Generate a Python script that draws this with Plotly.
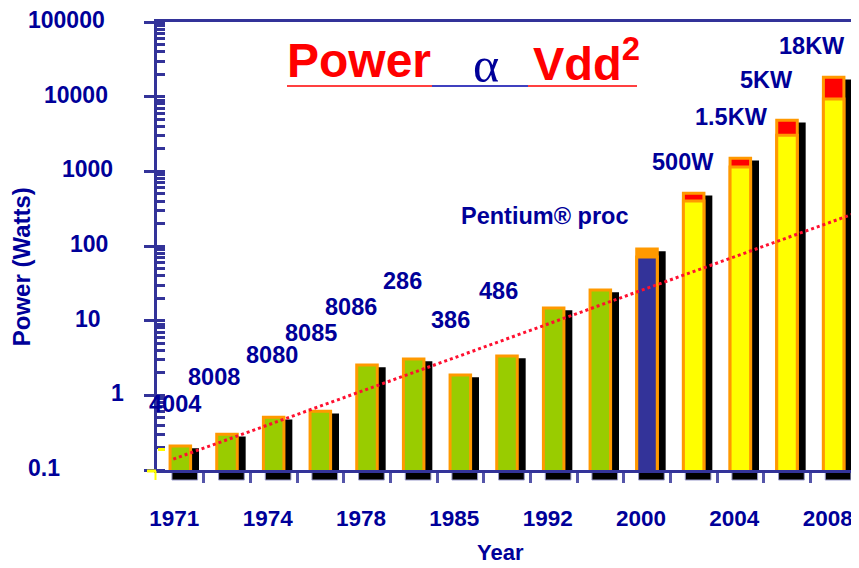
import math
import plotly.graph_objects as go

# ---------------- data ----------------
chips = ["4004", "8008", "8080", "8085", "8086", "286", "386", "486",
         "P1", "P2", "Pentium", "F1", "F2", "F3", "F4"]
power_top = [0.21, 0.30, 0.51, 0.61, 2.55, 3.06, 1.87, 3.37,
             14.8, 25.8, 91, 510, 1500, 4840, 18200]
power_body = [None] * 10 + [71, 400, 1140, 3050, 9270]

tick_positions = [0, 2, 4, 6, 8, 10, 12, 14]
tick_labels = ["1971", "1974", "1978", "1985", "1992", "2000", "2004", "2008"]

label_texts = ["4004", "8008", "8080", "8085", "8086", "286", "386", "486",
               "Pentium® proc", "500W", "1.5KW", "5KW", "18KW"]
label_x = [-0.11, 0.72, 1.96, 2.80, 3.66, 4.75, 5.78, 6.81, 7.81, 10.77, 11.80, 12.57, 13.53]
label_y = [0.77, 1.76, 3.47, 6.8, 15.2, 34, 10.2, 25, 250, 1330, 5330, 16700, 47600]

trend_x = [-0.15, 14.5]
trend_y = [0.14, 280]

y_decades = [0.1, 1, 10, 100, 1000, 10000, 100000]
y_decade_labels = ["0.1", "1", "10", "100", "1000", "10000", "100000"]

# ---------------- style ----------------
GREEN, ORANGE, YELLOW, RED, BLUE = "#99cc00", "#ff9900", "#ffff00", "#ff0000", "#333399"
AXIS = "#333399"
TXT = "#000099"
FONT = "Liberation Sans, Arial, sans-serif"
n = len(power_top)
idx = list(range(n))
top_colors = [GREEN] * 10 + [ORANGE] + [RED] * 4
body_colors = [GREEN] * 10 + [BLUE] + [YELLOW] * 4
W = 0.44
# right edge (px in the 859-wide page) of each hand-placed decade label
ylabel_right_px = [62, 126, 103, 110, 115, 110, 107]

fig = go.Figure()

# shadow (drawn on base axis, slightly shifted range)
fig.add_trace(go.Bar(x=idx, y=power_top, yaxis="y", xaxis="x", width=W,
                     offset=-W / 2 + 0.18, marker=dict(color="black", line=dict(width=0)),
                     hoverinfo="skip", showlegend=False))
# full-height bar (cap colour)
fig.add_trace(go.Bar(x=idx, y=power_top, yaxis="y2", width=W,
                     marker=dict(color=top_colors, line=dict(color=ORANGE, width=3)),
                     showlegend=False))
# body
fig.add_trace(go.Bar(x=idx, y=power_body, yaxis="y2", width=W,
                     marker=dict(color=body_colors, line=dict(color=ORANGE, width=3)),
                     showlegend=False))
# trend
fig.add_trace(go.Scatter(x=trend_x, y=trend_y, yaxis="y2", mode="lines",
                         line=dict(color="#ff1030", width=3, dash="dot"),
                         showlegend=False, hoverinfo="skip"))
# invisible trace to activate yaxis3 (inner half of the decade ticks)
fig.add_trace(go.Scatter(x=[None], y=[None], yaxis="y3", showlegend=False, hoverinfo="skip"))

shift = 0.03
fig.update_layout(
    width=851, height=560,
    margin=dict(l=149, r=2, t=14, b=98, autoexpand=False),
    paper_bgcolor="white", plot_bgcolor="white",
    barmode="overlay",
    showlegend=False,
    font=dict(family=FONT, color=TXT),
    xaxis=dict(range=[-0.5, 14.5], showgrid=False, zeroline=False,
               showline=True, linecolor=AXIS, linewidth=3, mirror=True,
               tickmode="array", tickvals=tick_positions, ticktext=tick_labels,
               ticks="", ticklabelshift=-6, ticklabelstandoff=26,
               tickfont=dict(size=22.5, color=TXT, family=FONT, weight="bold"),
               minor=dict(tickmode="array", tickvals=[i + 0.5 for i in range(n - 1)],
                          ticks="outside", ticklen=10, tickwidth=3, tickcolor="#5555aa")),
    yaxis=dict(type="log", range=[-1 + shift, 5 + shift], visible=False,
               showgrid=False, zeroline=False),
    yaxis2=dict(type="log", range=[-1, 5], overlaying="y", side="left", anchor="x",
                showgrid=False, zeroline=False,
                showline=True, linecolor=AXIS, linewidth=3, mirror=True,
                tickmode="array", tickvals=y_decades, showticklabels=False,
                ticks="outside", ticklen=10, tickwidth=3, tickcolor=AXIS,
                minor=dict(dtick="D1", ticks="inside", ticklen=8, tickwidth=2.5,
                           tickcolor=AXIS, showgrid=False)),
    yaxis3=dict(type="log", range=[-1, 5], overlaying="y", side="left", anchor="x",
                showgrid=False, zeroline=False, showline=False, showticklabels=False,
                tickmode="array", tickvals=y_decades,
                ticks="inside", ticklen=8, tickwidth=3, tickcolor=AXIS),
)

ann = []
for t, xx, yy in zip(label_texts, label_x, label_y):
    ann.append(dict(x=xx, y=math.log10(yy), xref="x", yref="y2", text=t, showarrow=False,
                    font=dict(size=23.5, color=TXT, family=FONT, weight="bold"),
                    xanchor="center", yanchor="middle"))


def px_x(p):
    return (p - 157) / 700


def px_y(p):
    return (470 - p) / 448


# decade labels of the value axis
for v, t, rp in zip(y_decades, y_decade_labels, ylabel_right_px):
    ann.append(dict(x=px_x(rp), y=math.log10(v), xref="paper", yref="y2", text=t,
                    showarrow=False, xanchor="right", yanchor="middle", yshift=2,
                    font=dict(size=23, color=TXT, family=FONT, weight="bold")))

# axis titles
ann.append(dict(x=-0.194, y=0.453, xref="paper", yref="paper", text="Power (Watts)",
                textangle=-90, showarrow=False, xanchor="center", yanchor="middle",
                font=dict(size=24, color=TXT, family=FONT, weight="bold")))
ann.append(dict(x=0.49, y=-0.185, xref="paper", yref="paper", text="Year", showarrow=False,
                xanchor="center", yanchor="middle",
                font=dict(size=22, color=TXT, family=FONT, weight="bold")))

# headline
ann.append(dict(x=0.2886, y=0.915, xref="paper", yref="paper", text="Power", showarrow=False,
                font=dict(size=48, color="#ff0000", family=FONT, weight="bold"),
                xanchor="center", yanchor="middle"))
ann.append(dict(x=0.470, y=0.905, xref="paper", yref="paper", text="α", showarrow=False,
                font=dict(size=50, color=TXT, family="Liberation Serif, Times New Roman, serif"),
                xanchor="center", yanchor="middle"))
ann.append(dict(x=0.534, y=0.915, xref="paper", yref="paper", text="Vdd<sup>2</sup>",
                showarrow=False,
                font=dict(size=47, color="#ff0000", family=FONT, weight="bold"),
                xanchor="left", yanchor="middle"))
fig.update_layout(annotations=ann)

shapes = []
uy = px_y(86)
for x0, x1, c in [(287, 432, "#ff0000"), (432, 528, "#0000aa"), (528, 637, "#ff0000")]:
    shapes.append(dict(type="line", xref="paper", yref="paper", x0=px_x(x0), x1=px_x(x1),
                       y0=uy, y1=uy, line=dict(color=c, width=1.5)))
# floor shadows under the axis
for i in idx:
    shapes.append(dict(type="rect", xref="x", yref="paper", x0=i - 0.18, x1=i + 0.37,
                       y0=px_y(472.5), y1=px_y(480), fillcolor="black",
                       line=dict(color="#9999cc", width=1), layer="below"))
# small yellow marks at the origin
shapes.append(dict(type="line", xref="paper", yref="paper", x0=px_x(147), x1=px_x(156),
                   y0=px_y(471), y1=px_y(471), line=dict(color=YELLOW, width=3)))
shapes.append(dict(type="line", xref="paper", yref="paper", x0=px_x(155.5), x1=px_x(155.5),
                   y0=px_y(471), y1=px_y(480), line=dict(color=YELLOW, width=2)))
shapes.append(dict(type="line", xref="paper", yref="paper", x0=px_x(158), x1=px_x(165),
                   y0=px_y(449.5), y1=px_y(449.5), line=dict(color=YELLOW, width=3)))
fig.update_layout(shapes=shapes)

fig.write_html("out.html")
